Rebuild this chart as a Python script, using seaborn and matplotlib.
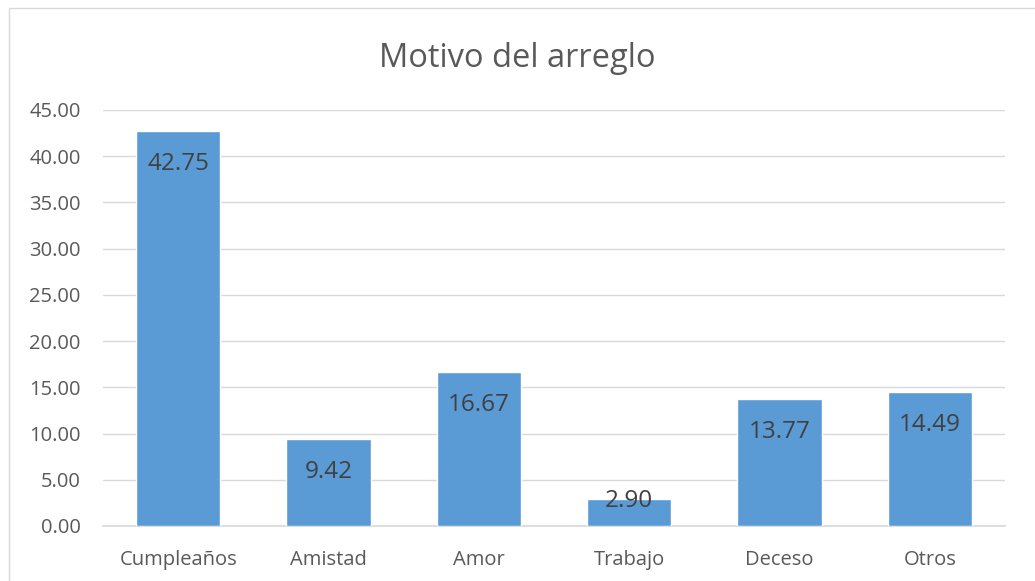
import matplotlib
matplotlib.use('Agg')
import matplotlib.pyplot as plt
import seaborn as sns
import pandas as pd
from matplotlib.patches import Rectangle

# Datos del gráfico
motivos = ['Cumpleaños', 'Amistad', 'Amor', 'Trabajo', 'Deceso', 'Otros']
porcentajes = [42.75, 9.42, 16.67, 2.90, 13.77, 14.49]
yticks = [0, 5, 10, 15, 20, 25, 30, 35, 40, 45]

df = pd.DataFrame({'motivo': motivos, 'valor': porcentajes})

sns.set_theme(style='white')
plt.rcParams['font.family'] = ['Open Sans', 'DejaVu Sans']

fig = plt.figure(figsize=(10.35, 5.81), dpi=100)
ax = fig.add_axes([0.0995, 0.0947, 0.8715, 0.716])

sns.barplot(data=df, x='motivo', y='valor', color='#5B9BD5', saturation=1,
            width=0.56, ax=ax, zorder=3)

ax.set_ylim(0, 45)
ax.set_yticks(yticks)
ax.set_yticklabels([f'{v:.2f}' for v in yticks])
ax.yaxis.grid(True, color='#D9D9D9', linewidth=1, zorder=0)
ax.xaxis.grid(False)
for s in ['top', 'right', 'left']:
    ax.spines[s].set_visible(False)
ax.spines['bottom'].set_color('#D9D9D9')
ax.tick_params(axis='both', length=0, colors='#595959')
ax.tick_params(axis='y', labelsize=14.5, pad=16)
ax.tick_params(axis='x', labelsize=14.5, pad=17)
ax.set_xlabel('')
ax.set_ylabel('')

# Etiquetas de datos (dentro del extremo, sin bajar del eje)
for i, v in enumerate(porcentajes):
    ax.text(i, max(v - 3.55, 2.7), f'{v:.2f}', ha='center', va='center',
            fontsize=17.5, color='#404040', zorder=4)

fig.text(0.5, 0.9, 'Motivo del arreglo', ha='center', va='center',
         fontsize=23.5, color='#595959')

# Borde del gráfico
fig.patches.append(Rectangle((9 / 1035, -0.01), 1.1, 1 - 8 / 581 + 0.01,
                             transform=fig.transFigure, fill=False,
                             edgecolor='#D9D9D9', linewidth=1))

fig.savefig('out.png', dpi=100)
